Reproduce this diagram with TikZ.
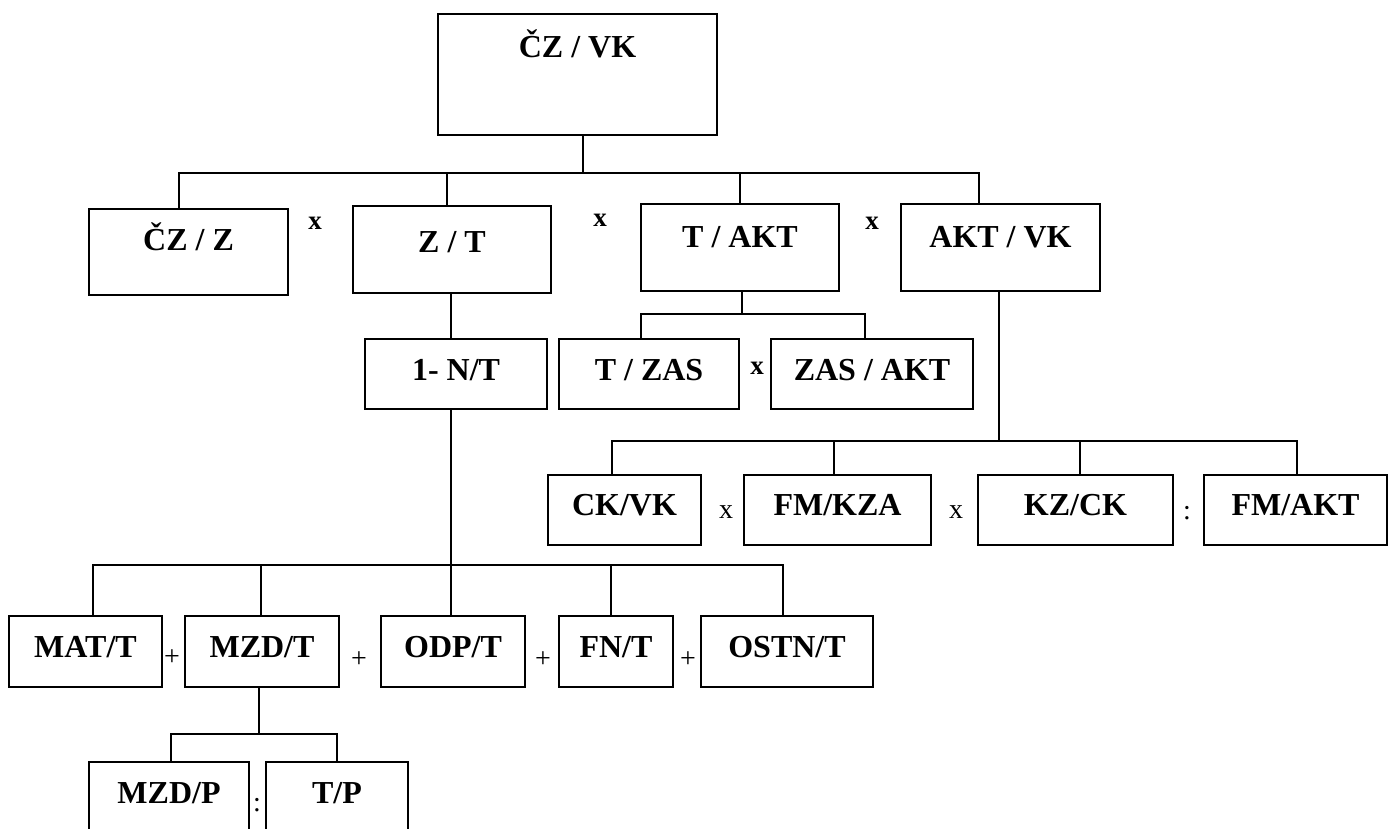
\documentclass[tikz,border=0pt]{standalone}
\usepackage{fontspec}
\setmainfont{Liberation Serif}
\begin{document}
\begin{tikzpicture}[x=1pt,y=-1pt,
  box/.style={draw, line width=1.8pt, inner sep=0pt, outer sep=0pt, font=\fontsize{32}{36}\selectfont\bfseries, text height=22pt},
  conn/.style={line width=1.6pt},
  opr/.style={inner sep=0pt, font=\fontsize{28}{30}\selectfont},
  opb/.style={inner sep=0pt, font=\fontsize{27}{30}\selectfont\bfseries}]
\useasboundingbox (0,0) rectangle (1394,828);
\clip (0,0) rectangle (1394,828);
% level 0
\node[box, minimum width=279pt, minimum height=121pt, text depth=56pt] (czvk) at (577.5,74.5) {ČZ / VK};
% level 1
\node[box, minimum width=199pt, minimum height=86pt, text depth=25pt] (czz) at (188.5,252) {ČZ / Z};
\node[box, minimum width=198pt, minimum height=87pt, text depth=16pt] (zt) at (452,249.5) {Z / T};
\node[box, minimum width=198pt, minimum height=87pt, text depth=22pt] (takt) at (740,247.5) {T / AKT};
\node[box, minimum width=199pt, minimum height=87pt, text depth=22pt] (aktvk) at (1000.5,247.5) {AKT / VK};
\node[opb] (x1) at (315,223) {x};
\node[opb] (x2) at (600,220) {x};
\node[opb] (x3) at (872,223) {x};
% level 2
\node[box, minimum width=182pt, minimum height=70pt, text depth=9pt] (nt) at (456,374) {1- N/T};
\node[box, minimum width=180pt, minimum height=70pt, text depth=9pt] (tzas) at (649,374) {T / ZAS};
\node[box, minimum width=202pt, minimum height=70pt, text depth=9pt] (zasakt) at (872,374) {ZAS / AKT};
\node[opb] (x4) at (757,368) {x};
% level 3 right
\node[box, minimum width=153pt, minimum height=70pt, text depth=11pt] (ckvk) at (624.5,510) {CK/VK};
\node[box, minimum width=187pt, minimum height=70pt, text depth=11pt] (fmkza) at (837.5,510) {FM/KZA};
\node[box, minimum width=195pt, minimum height=70pt, text depth=11pt] (kzck) at (1075.5,510) {KZ/CK};
\node[box, minimum width=183pt, minimum height=70pt, text depth=11pt] (fmakt) at (1295.5,510) {FM/AKT};
\node[opr] (x5) at (726,512) {x};
\node[opr] (x6) at (956,512) {x};
\node[opr] (d1) at (1187,513) {:};
% level 3 left
\node[box, minimum width=153pt, minimum height=71pt, text depth=10pt] (mat) at (85.5,651.5) {MAT/T};
\node[box, minimum width=154pt, minimum height=71pt, text depth=10pt] (mzdt) at (262,651.5) {MZD/T};
\node[box, minimum width=144pt, minimum height=71pt, text depth=10pt] (odp) at (453,651.5) {ODP/T};
\node[box, minimum width=114pt, minimum height=71pt, text depth=10pt] (fnt) at (616,651.5) {FN/T};
\node[box, minimum width=172pt, minimum height=71pt, text depth=10pt] (ostn) at (787,651.5) {OSTN/T};
\node[opr] (p1) at (172,658) {+};
\node[opr] (p2) at (359,660) {+};
\node[opr] (p3) at (543,660) {+};
\node[opr] (p4) at (688,660) {+};
% level 4
\node[box, minimum width=160pt, minimum height=80pt, text depth=19pt] (mzdp) at (169,802) {MZD/P};
\node[box, minimum width=142pt, minimum height=80pt, text depth=19pt] (tp) at (337,802) {T/P};
\node[opr] (d2) at (257,805) {:};
% connectors
\draw[conn] ([xshift=5.5pt]czvk.south) -- ++(0,38);
\draw[conn] ([xshift=-9.5pt]czz.north) -- ++(0,-36) -| ([xshift=-21.5pt]aktvk.north);
\draw[conn] ([xshift=-5pt]zt.north) -- ++(0,-33);
\draw[conn] (takt.north) -- ++(0,-31);
\draw[conn] ([xshift=-1pt]zt.south) -- ([xshift=-5pt]nt.north);
\draw[conn] ([xshift=2pt]takt.south) -- ++(0,23);
\draw[conn] ([xshift=-8pt]tzas.north) -- ++(0,-25) -| ([xshift=-7pt]zasakt.north);
\draw[conn] ([xshift=-1.5pt]aktvk.south) -- ++(0,150);
\draw[conn] ([xshift=-12.5pt]ckvk.north) -- ++(0,-34) -| ([xshift=1.5pt]fmakt.north);
\draw[conn] ([xshift=-3.5pt]fmkza.north) -- ++(0,-34);
\draw[conn] ([xshift=4.5pt]kzck.north) -- ++(0,-34);
\draw[conn] ([xshift=-5pt]nt.south) -- ++(0,156);
\draw[conn] ([xshift=7.5pt]mat.north) -- ++(0,-51) -| ([xshift=-4pt]ostn.north);
\draw[conn] ([xshift=-1pt]mzdt.north) -- ++(0,-51);
\draw[conn] ([xshift=-2pt]odp.north) -- ++(0,-51);
\draw[conn] ([xshift=-5pt]fnt.north) -- ++(0,-51);
\draw[conn] ([xshift=-3pt]mzdt.south) -- ++(0,47);
\draw[conn] ([xshift=2pt]mzdp.north) -- ++(0,-28) -| (tp.north);
\end{tikzpicture}
\end{document}
